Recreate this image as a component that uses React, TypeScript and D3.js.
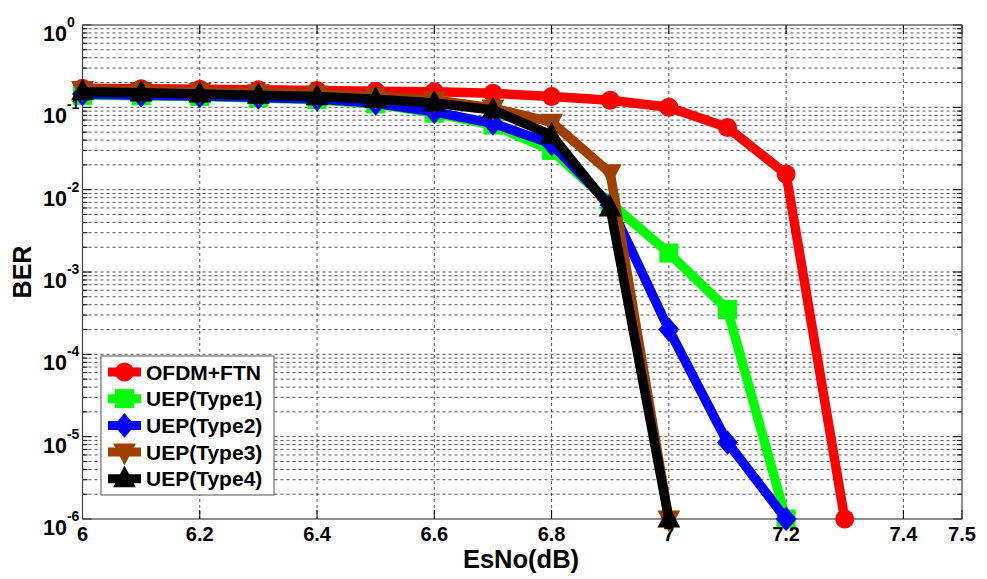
import React from "react";
import * as d3 from "d3";

// EsNo sweep (dB) and measured BER per scheme
const esNoRed = [6.0, 6.1, 6.2, 6.3, 6.4, 6.5, 6.6, 6.7, 6.8, 6.9, 7.0, 7.1, 7.2, 7.3];
const berOfdmFtn = [0.17, 0.168, 0.166, 0.163, 0.16, 0.157, 0.155, 0.148, 0.135, 0.122, 0.1, 0.057, 0.0155, 1e-6];

const esNoType12 = [6.0, 6.1, 6.2, 6.3, 6.4, 6.5, 6.6, 6.7, 6.8, 6.9, 7.0, 7.1, 7.2];
const berType1 = [0.14, 0.138, 0.135, 0.13, 0.124, 0.11, 0.085, 0.061, 0.03, 0.0069, 0.0017, 3.5e-4, 1e-6];
const berType2 = [0.145, 0.14, 0.137, 0.132, 0.126, 0.112, 0.088, 0.064, 0.036, 0.0065, 2e-4, 8.5e-6, 1e-6];

const esNoType34 = [6.0, 6.1, 6.2, 6.3, 6.4, 6.5, 6.6, 6.7, 6.8, 6.9, 7.0];
const berType3 = [0.165, 0.16, 0.155, 0.15, 0.145, 0.135, 0.123, 0.098, 0.066, 0.016, 1e-6];
const berType4 = [0.155, 0.15, 0.145, 0.14, 0.135, 0.125, 0.113, 0.093, 0.046, 0.006, 1e-6];

const xTickValues = [6, 6.2, 6.4, 6.6, 6.8, 7, 7.2, 7.4, 7.5];
const yExponents = [0, -1, -2, -3, -4, -5, -6];

type Marker = "circle" | "square" | "diamond" | "triDown" | "triUp";
const seriesList: { name: string; color: string; marker: Marker; xs: number[]; ys: number[] }[] = [
  { name: "OFDM+FTN", color: "#ff0000", marker: "circle", xs: esNoRed, ys: berOfdmFtn },
  { name: "UEP(Type1)", color: "#00ff00", marker: "square", xs: esNoType12, ys: berType1 },
  { name: "UEP(Type2)", color: "#0000ff", marker: "diamond", xs: esNoType12, ys: berType2 },
  { name: "UEP(Type3)", color: "#a04000", marker: "triDown", xs: esNoType34, ys: berType3 },
  { name: "UEP(Type4)", color: "#000000", marker: "triUp", xs: esNoType34, ys: berType4 },
];

const W = 987;
const H = 579;
const left = 82.5;
const right = 962;
const top = 25;
const bottom = 519;

const FONT = "'Liberation Sans', Arial, sans-serif";

function markerPath(m: Marker, cx: number, cy: number, s: number): React.ReactElement {
  switch (m) {
    case "circle":
      return <circle cx={cx} cy={cy} r={s * 0.5} />;
    case "square":
      return <rect x={cx - s * 0.5} y={cy - s * 0.5} width={s} height={s} />;
    case "diamond":
      return <path d={`M${cx},${cy - s * 0.65}L${cx + s * 0.55},${cy}L${cx},${cy + s * 0.65}L${cx - s * 0.55},${cy}Z`} />;
    case "triDown":
      return <path d={`M${cx - s * 0.6},${cy - s * 0.45}L${cx + s * 0.6},${cy - s * 0.45}L${cx},${cy + s * 0.7}Z`} />;
    case "triUp":
      return <path d={`M${cx - s * 0.6},${cy + s * 0.45}L${cx + s * 0.6},${cy + s * 0.45}L${cx},${cy - s * 0.7}Z`} />;
  }
}

export default function App() {
  const x = d3.scaleLinear().domain([6, 7.5]).range([left, right]);
  const y = d3.scaleLog().domain([1e-6, 1]).range([bottom, top]);

  const line = d3
    .line<[number, number]>()
    .x((d) => x(d[0]))
    .y((d) => y(d[1]));

  // minor log grid values
  const minorVals: number[] = [];
  for (let e = -6; e < 0; e++) {
    for (let k = 2; k <= 9; k++) minorVals.push(k * Math.pow(10, e));
  }

  const legendX = 101;
  const legendY = 356;
  const legendW = 173;
  const legendH = 139;
  const rowH = 26.7;

  return (
    <svg width={W} height={H} style={{ display: "block", position: "absolute", left: 0, top: 0 }}>
      <rect x={0} y={0} width={W} height={H} fill="#fff" />
      <rect x={left} y={top} width={right - left} height={bottom - top} fill="#fff" />

      {/* grid */}
      <g stroke="#000" strokeWidth={0.8} strokeDasharray="3,3" opacity={0.85}>
        {yExponents.slice(1, -1).map((e) => (
          <line key={"ym" + e} x1={left} x2={right} y1={y(Math.pow(10, e))} y2={y(Math.pow(10, e))} />
        ))}
        {minorVals.map((v, i) => (
          <line key={"yn" + i} x1={left} x2={right} y1={y(v)} y2={y(v)} />
        ))}
        {xTickValues.slice(1, -1).map((v) => (
          <line key={"xg" + v} x1={x(v)} x2={x(v)} y1={top} y2={bottom} />
        ))}
      </g>

      {/* ticks */}
      <g stroke="#000" strokeWidth={1}>
        {xTickValues.map((v) => (
          <g key={"xt" + v}>
            <line x1={x(v)} x2={x(v)} y1={bottom} y2={bottom - 9} />
            <line x1={x(v)} x2={x(v)} y1={top} y2={top + 9} />
          </g>
        ))}
        {yExponents.map((e) => (
          <g key={"yt" + e}>
            <line x1={left} x2={left + 9} y1={y(Math.pow(10, e))} y2={y(Math.pow(10, e))} />
            <line x1={right} x2={right - 9} y1={y(Math.pow(10, e))} y2={y(Math.pow(10, e))} />
          </g>
        ))}
        {minorVals.map((v, i) => (
          <g key={"ymt" + i}>
            <line x1={left} x2={left + 5} y1={y(v)} y2={y(v)} />
            <line x1={right} x2={right - 5} y1={y(v)} y2={y(v)} />
          </g>
        ))}
      </g>

      <rect x={left} y={top} width={right - left} height={bottom - top} fill="none" stroke="#444" strokeWidth={1.2} />

      {/* series */}
      {seriesList.map((s) => {
        const pts = s.xs.map((v, i) => [v, s.ys[i]] as [number, number]);
        return (
          <g key={s.name}>
            <path d={line(pts) || ""} fill="none" stroke={s.color} strokeWidth={9.5} strokeLinejoin="round" />
            <g fill={s.color}>
              {pts.map((p, i) => (
                <g key={i}>{markerPath(s.marker, x(p[0]), y(p[1]), 19)}</g>
              ))}
            </g>
          </g>
        );
      })}

      {/* tick labels */}
      <g fontFamily={FONT} fontWeight="bold" fill="#000">
        {xTickValues.map((v) => (
          <text key={"xl" + v} x={x(v)} y={541} fontSize={20} textAnchor="middle">
            {String(v)}
          </text>
        ))}
        {yExponents.map((e) => {
          const yy = y(Math.pow(10, e));
          return (
            <text key={"yl" + e} x={43} y={yy + 16} fontSize={21.5}>
              10
              <tspan dy={-14} fontSize={14}>
                {String(e)}
              </tspan>
            </text>
          );
        })}
        <text x={521} y={568} fontSize={25.5} textAnchor="middle">
          EsNo(dB)
        </text>
        <text transform={`translate(31,272) rotate(-90)`} fontSize={25} textAnchor="middle">
          BER
        </text>
      </g>

      {/* legend */}
      <rect x={legendX} y={legendY} width={legendW} height={legendH} fill="#fff" stroke="#555" strokeWidth={1} />
      {seriesList.map((s, i) => {
        const cy = legendY + 16 + i * rowH;
        return (
          <g key={"lg" + s.name}>
            <line x1={108} x2={141} y1={cy} y2={cy} stroke={s.color} strokeWidth={9} />
            <g fill={s.color}>{markerPath(s.marker, 124.5, cy, 19)}</g>
            <text x={146} y={cy + 7.5} fontFamily={FONT} fontWeight="bold" fontSize={21} fill="#000">
              {s.name}
            </text>
          </g>
        );
      })}
    </svg>
  );
}
